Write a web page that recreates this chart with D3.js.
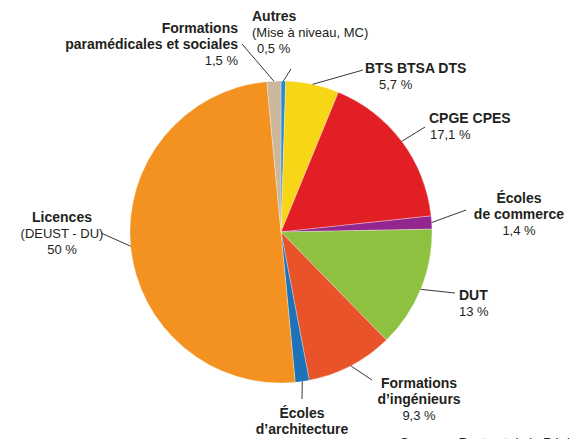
<!DOCTYPE html>
<html>
<head>
<meta charset="utf-8">
<script src="https://cdn.jsdelivr.net/npm/d3@7"></script>
<style>
  body { margin: 0; background: #fff; }
  text { font-family: "Liberation Sans", Arial, sans-serif; fill: #231f20; }
  .lbl-b { font-weight: bold; font-size: 14px; }
  .lbl { font-size: 13px; }
</style>
</head>
<body>
<div id="chart"></div>
<script>
let width = 570,
    height = 439;

// slices, clockwise from 12 o'clock
const categories = ["Autres", "BTS BTSA DTS", "CPGE CPES", "Écoles de commerce", "DUT",
  "Formations d’ingénieurs", "Écoles d’architecture", "Licences", "Formations paramédicales et sociales"];
const values = [0.5, 5.7, 17.1, 1.4, 13, 9.3, 1.5, 50, 1.5];
const valueLabels = ["0,5 %", "5,7 %", "17,1 %", "1,4 %", "13 %", "9,3 %", "1,5 %", "50 %", "1,5 %"];
const colors = ["#2a8ccf", "#f7d517", "#e31f26", "#93278f", "#8dc13f", "#e9532a", "#1d72b8", "#f39221", "#cbb89c"];

// label layout: text lines (bold title lines, then regular lines), anchor, line end
const labelLayout = [
  {bold: ["Autres"], reg: ["(Mise à niveau, MC)"], x: 252, y: 21, anchor: "start", pctX: 257, end: [291, 69]},
  {bold: ["BTS BTSA DTS"], x: 365, y: 73, anchor: "start", pctX: 379, end: [363, 70]},
  {bold: ["CPGE CPES"], x: 429, y: 123, anchor: "start", pctX: 430, end: [425, 127]},
  {bold: ["Écoles", "de commerce"], x: 519, y: 203, anchor: "middle", end: [466, 210]},
  {bold: ["DUT"], x: 459, y: 300, anchor: "start", end: [455, 293]},
  {bold: ["Formations", "d’ingénieurs"], x: 419, y: 388, anchor: "middle", end: [372, 380]},
  {bold: ["Écoles", "d’architecture"], x: 302, y: 418, anchor: "middle", end: [302, 399]},
  {bold: ["Licences"], reg: ["(DEUST - DU)"], x: 62, y: 222, anchor: "middle", end: [101, 233]},
  {bold: ["Formations", "paramédicales et sociales"], x: 238, y: 33, anchor: "end", end: [242, 44]}
];

const cx = 281, cy = 232, radius = 151;

const svg = d3.select("#chart")
    .append("svg")
    .attr("width", width)
    .attr("height", height)
    .attr("viewBox", [0, 0, width, height]);

const pie = d3.pie().sort(null).value(d => d);
const arc = d3.arc().innerRadius(0).outerRadius(radius);
const edge = d3.arc().innerRadius(radius).outerRadius(radius);

const arcs = pie(values);

const g = svg.append("g")
    .attr("transform", "translate(" + cx + "," + cy + ")");

g.selectAll("path.slice")
  .data(arcs)
  .enter().append("path")
    .attr("class", "slice")
    .attr("fill", (d, i) => colors[i])
    .attr("stroke", "#fff")
    .attr("stroke-width", 0.3)
    .attr("d", arc);

// leader lines from the middle of each slice's rim
svg.selectAll("line.leader")
  .data(arcs)
  .enter().append("line")
    .attr("class", "leader")
    .attr("x1", d => cx + edge.centroid(d)[0])
    .attr("y1", d => cy + edge.centroid(d)[1])
    .attr("x2", (d, i) => labelLayout[i].end[0])
    .attr("y2", (d, i) => labelLayout[i].end[1])
    .attr("stroke", "#231f20")
    .attr("stroke-width", 0.9);

const lineH = 16;
labelLayout.forEach((l, i) => {
  const t = svg.append("text")
      .attr("x", l.x)
      .attr("y", l.y)
      .attr("text-anchor", l.anchor);
  let k = 0;
  l.bold.forEach(s => {
    t.append("tspan").attr("class", "lbl-b").attr("x", l.x).attr("y", l.y + k * lineH).text(s);
    k++;
  });
  (l.reg || []).forEach(s => {
    t.append("tspan").attr("class", "lbl").attr("x", l.x).attr("y", l.y + k * lineH).text(s);
    k++;
  });
  t.append("tspan").attr("class", "lbl")
      .attr("x", l.pctX || l.x)
      .attr("y", l.y + k * lineH)
      .text(valueLabels[i]);
});

svg.append("text")
    .attr("class", "lbl")
    .attr("x", 400)
    .attr("y", 447)
    .text("Sources : Rectorat de la Région");
</script>
</body>
</html>
